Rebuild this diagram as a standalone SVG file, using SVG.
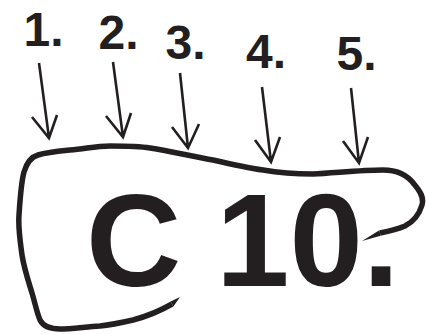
<svg xmlns="http://www.w3.org/2000/svg" width="426" height="334" viewBox="0 0 426 334">
<style>
.lbl{font-family:"Liberation Sans",Arial,sans-serif;font-weight:bold;font-size:48px;fill:#231f20}
.big{font-family:"Liberation Sans",Arial,sans-serif;font-weight:bold;font-size:132px;fill:#231f20}
.arr{fill:none;stroke:#231f20;stroke-width:2.6;stroke-linecap:butt;stroke-linejoin:miter}
.brush{fill:none;stroke:#231f20;stroke-width:5.5;stroke-linecap:butt;stroke-linejoin:round}
.wedge{fill:#231f20}
</style>
<rect width="426" height="334" fill="#ffffff"/>
<g id="label-1"><text class="lbl" x="23.5" y="46">1.</text></g>
<g id="label-2"><text class="lbl" x="98.5" y="49">2.</text></g>
<g id="label-3"><text class="lbl" x="165.5" y="59">3.</text></g>
<g id="label-4"><text class="lbl" x="246" y="68">4.</text></g>
<g id="label-5"><text class="lbl" x="336.5" y="70">5.</text></g>
<g id="connectors">
<path class="arr" d="M39,63 L49,138 M32,117 L49,138 L57,115"/>
<path class="arr" d="M113,62 L123,137 M106,116 L123,137 L131,113"/>
<path class="arr" d="M180,73 L188,148 M172,127 L188,148 L199,124"/>
<path class="arr" d="M262,87 L271,162 M255,140 L271,162 L280,137"/>
<path class="arr" d="M351,88 L359,163 M343,141 L359,163 L368,137"/>
</g>
<g id="outline">
<path class="brush" d="M172,304 C160,311 148,316 133,320 C120,323 110,325 100,326 C85,327 70,329 60,329 C50,329 43,326 40,320 C37,313 35,303 32,293 C28,280 24,268 22,255 C20,240 18,228 19,215 C20,200 21,183 24,172 C27,162 31,157 38,155 C48,152 60,151 70,150 C85,149 95,146 110,146 C125,146 138,146 150,148 C170,151 195,157 213,160 C230,164 248,168 263,170 C280,173 298,174 313,174 C335,173 360,170 383,170 C398,170 408,176 414,184 C421,192 424,198 422,205 C419,215 413,222 405,226 C398,229 390,231 380,233"/>
<path class="wedge" d="M180,297 L170.6,301.6 L173.4,306.4 Z"/>
<path class="wedge" d="M379.4,230.3 L362,241 L380.6,235.7 Z"/>
</g>
<g id="code">
<text class="big" x="86" y="286">C</text>
<text class="big" x="216" y="286">10.</text>
</g>
</svg>
